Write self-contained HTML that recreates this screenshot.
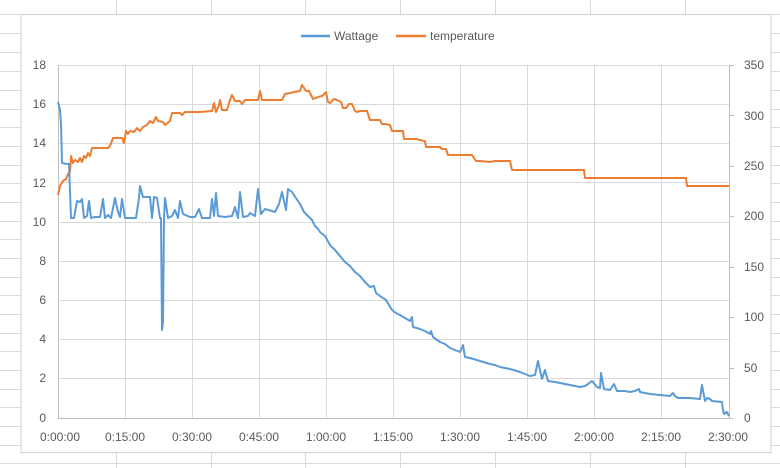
<!DOCTYPE html>
<html><head><meta charset="utf-8"><style>
body{margin:0;background:#fff;}
svg{display:block;font-family:"Liberation Sans",sans-serif;}
</style></head><body>
<svg width="780" height="468" viewBox="0 0 780 468">
<g stroke="#d9d9d9" stroke-width="1">
<line x1="0" y1="14.5" x2="780" y2="14.5"/>
<line x1="0" y1="33.5" x2="21" y2="33.5"/><line x1="0" y1="52.5" x2="21" y2="52.5"/><line x1="0" y1="71.5" x2="21" y2="71.5"/><line x1="0" y1="90.5" x2="21" y2="90.5"/><line x1="0" y1="109.5" x2="21" y2="109.5"/><line x1="0" y1="127.5" x2="21" y2="127.5"/><line x1="0" y1="146.5" x2="21" y2="146.5"/><line x1="0" y1="165.5" x2="21" y2="165.5"/><line x1="0" y1="183.5" x2="21" y2="183.5"/><line x1="0" y1="202.5" x2="21" y2="202.5"/><line x1="0" y1="221.5" x2="21" y2="221.5"/><line x1="0" y1="239.5" x2="21" y2="239.5"/><line x1="0" y1="258.5" x2="21" y2="258.5"/><line x1="0" y1="277.5" x2="21" y2="277.5"/><line x1="0" y1="295.5" x2="21" y2="295.5"/><line x1="0" y1="314.5" x2="21" y2="314.5"/><line x1="0" y1="333.5" x2="21" y2="333.5"/><line x1="0" y1="351.5" x2="21" y2="351.5"/><line x1="0" y1="370.5" x2="21" y2="370.5"/><line x1="0" y1="389.5" x2="21" y2="389.5"/><line x1="0" y1="407.5" x2="21" y2="407.5"/><line x1="0" y1="426.5" x2="21" y2="426.5"/><line x1="0" y1="445.5" x2="21" y2="445.5"/><line x1="0" y1="463.5" x2="780" y2="463.5"/>
<line x1="771" y1="33.5" x2="780" y2="33.5"/><line x1="771" y1="52.5" x2="780" y2="52.5"/><line x1="771" y1="71.5" x2="780" y2="71.5"/><line x1="771" y1="90.5" x2="780" y2="90.5"/><line x1="771" y1="109.5" x2="780" y2="109.5"/><line x1="771" y1="127.5" x2="780" y2="127.5"/><line x1="771" y1="146.5" x2="780" y2="146.5"/><line x1="771" y1="165.5" x2="780" y2="165.5"/><line x1="771" y1="183.5" x2="780" y2="183.5"/><line x1="771" y1="202.5" x2="780" y2="202.5"/><line x1="771" y1="221.5" x2="780" y2="221.5"/><line x1="771" y1="239.5" x2="780" y2="239.5"/><line x1="771" y1="258.5" x2="780" y2="258.5"/><line x1="771" y1="277.5" x2="780" y2="277.5"/><line x1="771" y1="295.5" x2="780" y2="295.5"/><line x1="771" y1="314.5" x2="780" y2="314.5"/><line x1="771" y1="333.5" x2="780" y2="333.5"/><line x1="771" y1="351.5" x2="780" y2="351.5"/><line x1="771" y1="370.5" x2="780" y2="370.5"/><line x1="771" y1="389.5" x2="780" y2="389.5"/><line x1="771" y1="407.5" x2="780" y2="407.5"/><line x1="771" y1="426.5" x2="780" y2="426.5"/><line x1="771" y1="445.5" x2="780" y2="445.5"/>
<line x1="116.5" y1="0" x2="116.5" y2="14"/><line x1="211.5" y1="0" x2="211.5" y2="14"/><line x1="305.5" y1="0" x2="305.5" y2="14"/><line x1="400.5" y1="0" x2="400.5" y2="14"/><line x1="495.5" y1="0" x2="495.5" y2="14"/><line x1="590.5" y1="0" x2="590.5" y2="14"/><line x1="685.5" y1="0" x2="685.5" y2="14"/>
<line x1="116.5" y1="453" x2="116.5" y2="468"/><line x1="211.5" y1="453" x2="211.5" y2="468"/><line x1="305.5" y1="453" x2="305.5" y2="468"/><line x1="400.5" y1="453" x2="400.5" y2="468"/><line x1="495.5" y1="453" x2="495.5" y2="468"/><line x1="590.5" y1="453" x2="590.5" y2="468"/><line x1="685.5" y1="453" x2="685.5" y2="468"/>
</g>
<rect x="21" y="14.5" width="750" height="438" fill="#fff" stroke="#d0d0d0"/>
<g stroke="#d9d9d9" stroke-width="1">
<line x1="58" y1="65.5" x2="729" y2="65.5"/><line x1="58" y1="104.5" x2="729" y2="104.5"/><line x1="58" y1="143.5" x2="729" y2="143.5"/><line x1="58" y1="182.5" x2="729" y2="182.5"/><line x1="58" y1="222.5" x2="729" y2="222.5"/><line x1="58" y1="261.5" x2="729" y2="261.5"/><line x1="58" y1="300.5" x2="729" y2="300.5"/><line x1="58" y1="339.5" x2="729" y2="339.5"/><line x1="58" y1="378.5" x2="729" y2="378.5"/>
<line x1="125.5" y1="65" x2="125.5" y2="418"/><line x1="192.5" y1="65" x2="192.5" y2="418"/><line x1="259.5" y1="65" x2="259.5" y2="418"/><line x1="326.5" y1="65" x2="326.5" y2="418"/><line x1="393.5" y1="65" x2="393.5" y2="418"/><line x1="460.5" y1="65" x2="460.5" y2="418"/><line x1="527.5" y1="65" x2="527.5" y2="418"/><line x1="594.5" y1="65" x2="594.5" y2="418"/><line x1="661.5" y1="65" x2="661.5" y2="418"/>
</g>
<g stroke="#bfbfbf" stroke-width="1">
<line x1="58.5" y1="65" x2="58.5" y2="418"/><line x1="729.5" y1="65" x2="729.5" y2="418"/><line x1="58" y1="418.5" x2="733" y2="418.5"/>
<line x1="729" y1="65.5" x2="734" y2="65.5"/><line x1="729" y1="115.5" x2="734" y2="115.5"/><line x1="729" y1="166.5" x2="734" y2="166.5"/><line x1="729" y1="216.5" x2="734" y2="216.5"/><line x1="729" y1="267.5" x2="734" y2="267.5"/><line x1="729" y1="317.5" x2="734" y2="317.5"/><line x1="729" y1="368.5" x2="734" y2="368.5"/>
</g>
<g fill="#595959" font-size="12">
<g text-anchor="end">
<text x="46" y="69">18</text><text x="46" y="108">16</text><text x="46" y="147">14</text><text x="46" y="187">12</text><text x="46" y="226">10</text><text x="46" y="265">8</text><text x="46" y="304">6</text><text x="46" y="343">4</text><text x="46" y="382">2</text><text x="46" y="422">0</text>
</g>
<text x="744" y="69">350</text><text x="744" y="120">300</text><text x="744" y="170">250</text><text x="744" y="220">200</text><text x="744" y="271">150</text><text x="744" y="321">100</text><text x="744" y="372">50</text><text x="744" y="422">0</text>
<g text-anchor="middle">
<text x="60" y="441">0:00:00</text><text x="125" y="441">0:15:00</text><text x="192" y="441">0:30:00</text><text x="259" y="441">0:45:00</text><text x="326" y="441">1:00:00</text><text x="393" y="441">1:15:00</text><text x="460" y="441">1:30:00</text><text x="527" y="441">1:45:00</text><text x="594" y="441">2:00:00</text><text x="661" y="441">2:15:00</text><text x="728" y="441">2:30:00</text>
</g>
<text x="334" y="40">Wattage</text><text x="430" y="40">temperature</text>
</g>
<line x1="301" y1="36" x2="330" y2="36" stroke="#5b9bd5" stroke-width="2.5"/>
<line x1="396" y1="36" x2="426" y2="36" stroke="#ed7d31" stroke-width="2.5"/>
<polyline fill="none" stroke="#ed7d31" stroke-width="2" stroke-linejoin="round" points="58,195 60,186 63,181 66,179 68,174 70,172 71,156 73,163 75,160 78,162 80,158 82,162 84,156 86,158 88,153 90,156 92,148 98,148 108,148 110,146 113,138 122,138 124,143 126,131 128,134 130,131 134,132 137,128 140,131 143,127 147,125 150,121 153,123 156,117 158,121 163,122 165,125 170,121 172,113 180,113 182,115 185,112 200,112 212,111 214,103 216,112 219,105 220,100 222,110 227,110 230,100 232,95 235,101 240,101 242,104 245,100 255,100 258,100 260,91 262,100 282,100 285,94 290,93 294,92 300,91 302,85 306,91 309,91 313,99 318,97 322,96 326,92 328,102 330,103 334,99 337,100 341,102 343,108 346,108 349,104 352,104 355,111 357,112 360,111 367,111 370,120 374,120 380,120 382,124 385,124 390,125 392,131 403,131 404,139 417,139 419,140 425,141 426,147 440,147 442,149 446,149 448,155 472,155 476,161 480,161 490,162 495,161 510,161 512,170 584,170 585,178 686,178 687,186 729,186"/>
<polyline fill="none" stroke="#5b9bd5" stroke-width="2" stroke-linejoin="round" points="58,102 60,110 61,123 62,163 67,164 69,164 70,191 71,218 74,218 77,201 80,202 82,199 84,218 87,216 89,201 91,218 95,217 100,217 103,199 105,218 108,215 111,218 115,198 118,212 120,217 122,199 125,218 130,218 136,218 139,198 140,186 143,197 150,197 152,218 154,197 157,198 160,218 161,218 162,330 163,322 164,218 165,198 168,218 172,216 175,210 178,218 180,201 183,214 190,217 195,217 199,209 202,218 210,218 212,199 214,216 216,193 218,216 225,217 232,216 235,207 238,218 240,192 243,217 248,216 250,213 255,216 258,189 261,214 265,209 275,212 279,204 282,192 286,210 288,189 292,192 296,198 300,204 304,212 308,216 312,220 315,226 318,229 320,232 325,236 330,245 335,250 340,256 345,262 350,266 355,272 360,276 365,282 370,287 374,286 376,293 380,296 386,300 392,310 396,313 400,315 405,318 410,321 412,317 413,327 420,329 425,331 430,334 431,331 433,337 440,342 445,344 450,348 455,350 460,352 463,345 465,357 470,358 480,361 490,364 495,365 500,367 510,369 520,372 530,376 535,375 538,361 542,379 545,370 548,381 555,382 560,383 570,385 580,387 585,386 588,384 592,381 597,387 600,388 601,373 604,389 610,390 614,384 617,391 625,391 630,392 635,391 639,389 640,392 650,394 660,395 670,396 673,393 675,396 678,398 690,398 700,399 702,385 705,401 707,398 710,399 712,401 722,402 723,410 724,414 727,412 729,416"/>
</svg>
</body></html>
